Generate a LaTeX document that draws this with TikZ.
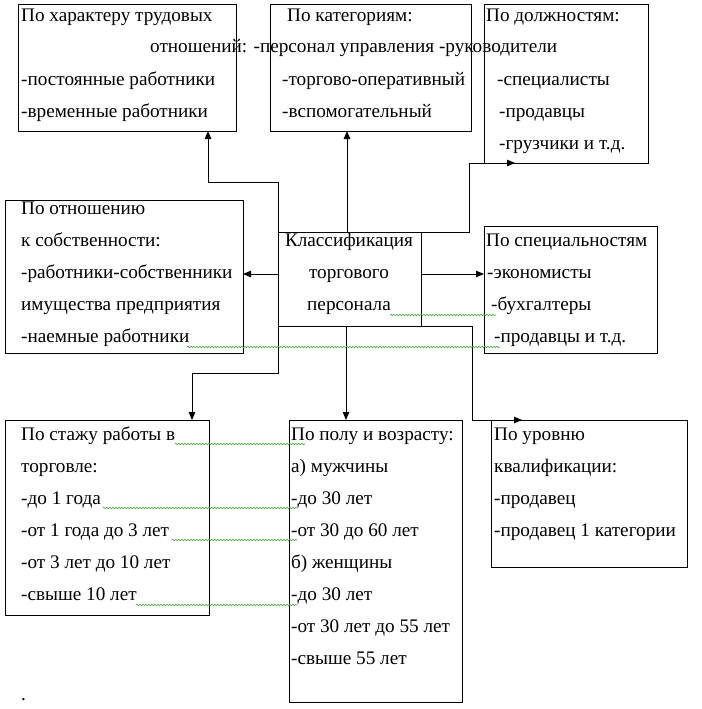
\documentclass[tikz,border=0pt]{standalone}
\usepackage{fontspec}
\setmainfont{Liberation Serif}
\usetikzlibrary{arrows.meta,decorations.pathmorphing}
\newcommand\diagfont{\fontsize{19.2}{22}\selectfont}
\definecolor{squigc}{RGB}{70,170,60}
\begin{document}
\begin{tikzpicture}[x=1pt,y=-1pt,
  box/.style={draw, line width=1pt, anchor=north west, inner sep=0pt, outer sep=0pt},
  txt/.style={anchor=mid west, inner sep=0pt, yshift=-2.5pt, font=\diagfont},
  ctxt/.style={anchor=mid, inner sep=0pt, yshift=-2.5pt, font=\diagfont},
  arr/.style={line width=1pt, -{Triangle[length=8pt,width=6.5pt]}},
  squig/.style={draw=squigc, line width=0.6pt, decorate, decoration={snake, amplitude=0.8pt, segment length=3pt}}]
\useasboundingbox (0,0) rectangle (701,709);
% boxes
\node[box, minimum width=218pt, minimum height=126pt] (b1) at (18,5) {};
\node[box, minimum width=201pt, minimum height=126pt] (b2) at (270,5) {};
\node[box, minimum width=164pt, minimum height=158pt] (b3) at (484,5) {};
\node[box, minimum width=238pt, minimum height=153pt] (b4) at (5,200) {};
\node[box, minimum width=143pt, minimum height=94pt] (c) at (278,232) {};
\node[box, minimum width=173pt, minimum height=127pt] (b6) at (484,226) {};
\node[box, minimum width=204pt, minimum height=195pt] (b7) at (5,420) {};
\node[box, minimum width=173pt, minimum height=282pt] (b8) at (289,420) {};
\node[box, minimum width=196pt, minimum height=147pt] (b9) at (491,420) {};
% box 1
\node[txt] (t1a) at (21,17) {По характеру трудовых};
\node[txt] (t1b) at (150,48) {отношений: -персонал управления -руководители};
\node[txt] (t1c) at (21,81) {-постоянные работники};
\node[txt] (t1d) at (21,113) {-временные работники};
% box 2
\node[txt] (t2a) at (287,17) {По категориям:};
\node[txt] (t2b) at (282,81) {-торгово-оперативный};
\node[txt] (t2c) at (282,113) {-вспомогательный};
% box 3
\node[txt] (t3a) at (486,17) {По должностям:};
\node[txt] (t3b) at (497,81) {-специалисты};
\node[txt] (t3c) at (499,113) {-продавцы};
\node[txt] (t3d) at (499,145) {-грузчики и т.д.};
% box 4
\node[txt] (t4a) at (21,210) {По отношению};
\node[txt] (t4b) at (21,242) {к собственности:};
\node[txt] (t4c) at (21,274) {-работники-собственники};
\node[txt] (t4d) at (21,306) {имущества предприятия};
\node[txt] (t4e) at (21,338) {-наемные работники};
% centre
\node[ctxt] (tca) at (349,242) {Классификация};
\node[ctxt] (tcb) at (349,274) {торгового};
\node[ctxt] (tcc) at (349,306) {персонала};
% box 6
\node[txt] (t6a) at (486,242) {По специальностям};
\node[txt] (t6b) at (487,274) {-экономисты};
\node[txt] (t6c) at (491,306) {-бухгалтеры};
\node[txt] (t6d) at (494,338) {-продавцы и т.д.};
% box 7
\node[txt] (t7a) at (21,436) {По стажу работы в};
\node[txt] (t7b) at (21,468) {торговле:};
\node[txt] (t7c) at (21,500) {-до 1 года};
\node[txt] (t7d) at (21,532) {-от 1 года до 3 лет};
\node[txt] (t7e) at (21,564) {-от 3 лет до 10 лет};
\node[txt] (t7f) at (21,596) {-свыше 10 лет};
% box 8
\node[txt] (t8a) at (291,436) {По полу и возрасту:};
\node[txt] (t8b) at (291,468) {а) мужчины};
\node[txt] (t8c) at (291,500) {-до 30 лет};
\node[txt] (t8d) at (291,532) {-от 30 до 60 лет};
\node[txt] (t8e) at (291,564) {б) женщины};
\node[txt] (t8f) at (291,596) {-до 30 лет};
\node[txt] (t8g) at (291,628) {-от 30 лет до 55 лет};
\node[txt] (t8h) at (291,660) {-свыше 55 лет};
% box 9
\node[txt] (t9a) at (494,436) {По уровню};
\node[txt] (t9b) at (494,468) {квалификации:};
\node[txt] (t9c) at (494,500) {-продавец};
\node[txt] (t9d) at (494,532) {-продавец 1 категории};
% stray dot
\node[anchor=base west, inner sep=0pt, font=\diagfont] (dot) at (21,700) {.};
% connectors
\coordinate (k1) at (208,182);
\coordinate (k1b) at (278,182);
\draw[arr] (c.north west) -- (k1b) -- (k1) -- (k1 |- b1.south);
\coordinate (k2) at (347,0);
\draw[arr] (k2 |- c.north) -- (k2 |- b2.south);
\coordinate (k3) at (469,163);
\coordinate (k3t) at (515,0);
\draw[arr] (c.north east) -- (k3 |- c.north) -- (k3) -- (k3t |- b3.south);
\coordinate (k4) at (0,274);
\draw[arr] (c.west |- k4) -- (b4.east |- k4);
\draw[arr] (c.east |- k4) -- (b6.west |- k4);
\coordinate (k7) at (192,373);
\draw[arr] (c.south west) -- (c.south west |- k7) -- (k7) -- (k7 |- b7.north);
\coordinate (k8) at (346,0);
\draw[arr] (k8 |- c.south) -- (k8 |- b8.north);
\coordinate (k9) at (472,420);
\coordinate (k9t) at (522,0);
\draw[arr] (c.south east) -- (k9 |- c.south) -- (k9) -- (k9t |- b9.north);
% spell-check squiggles
\draw[squig] (187,347) -- (500,347);
\draw[squig] (390,315) -- (496,315);
\draw[squig] (175,444) -- (305,444);
\draw[squig] (103,508) -- (297,508);
\draw[squig] (172,540) -- (297,540);
\draw[squig] (136,605) -- (297,605);
\end{tikzpicture}
\end{document}
